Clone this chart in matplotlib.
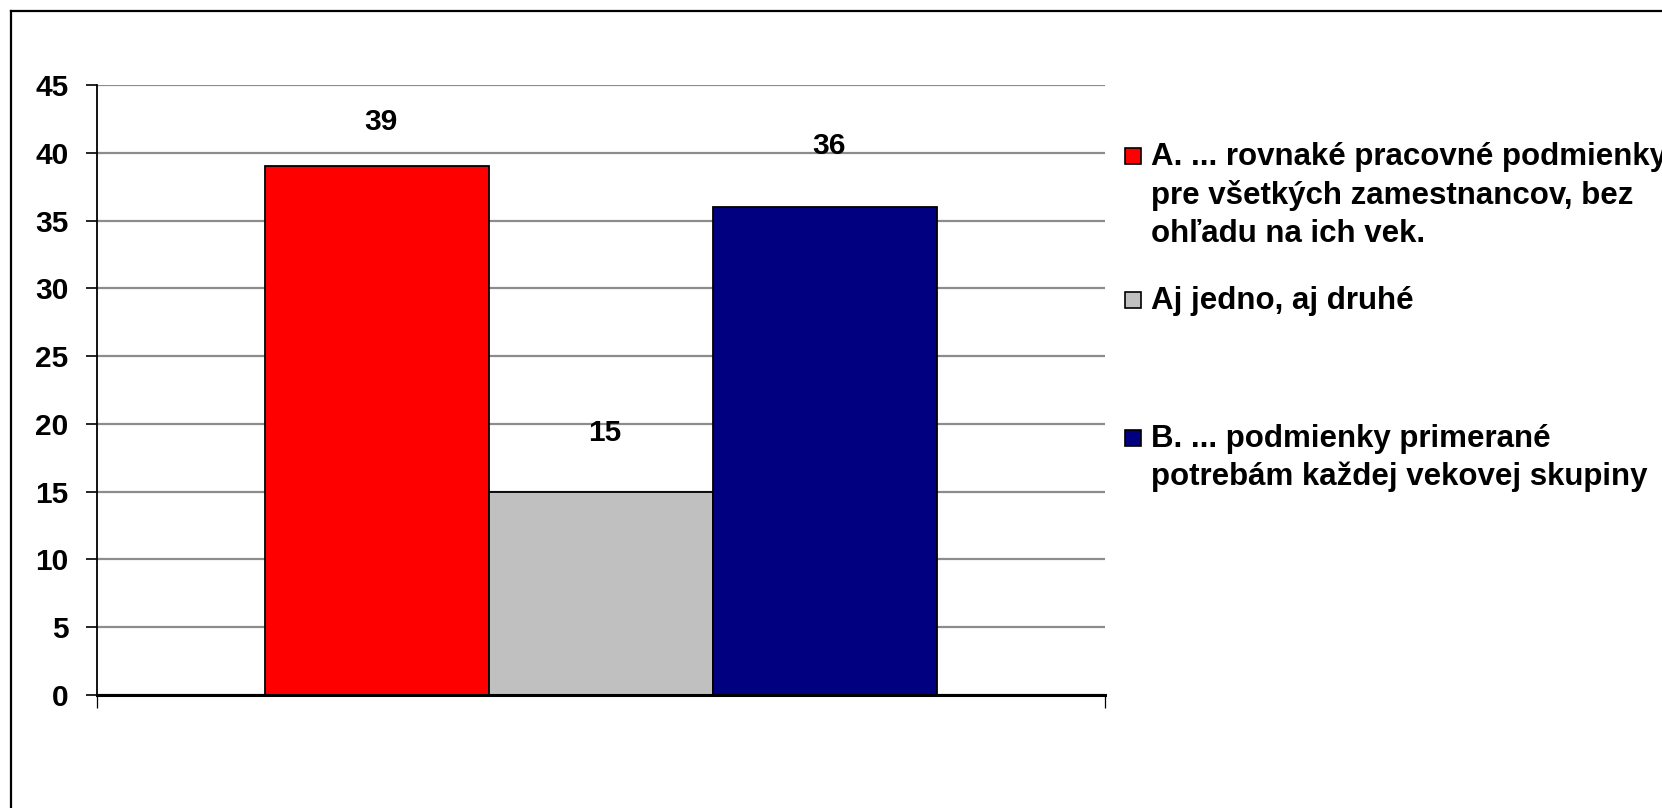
import matplotlib
matplotlib.use("Agg")
import matplotlib.pyplot as plt
from matplotlib.lines import Line2D
from matplotlib.patches import Rectangle

# Survey answers (percent)
labels = [
    "A. ... rovnaké pracovné podmienky\npre všetkých zamestnancov, bez\nohľadu na ich vek.",
    "Aj jedno, aj druhé",
    "B. ... podmienky primerané\npotrebám každej vekovej skupiny",
]
values = [39, 15, 36]
colors = ["#FF0000", "#C0C0C0", "#000080"]
yticks = [0, 5, 10, 15, 20, 25, 30, 35, 40, 45]

plt.rcParams["font.family"] = ["Liberation Sans", "DejaVu Sans"]
plt.rcParams["font.weight"] = "bold"

W, H = 1662, 808
fig = plt.figure(figsize=(W / 100, H / 100), dpi=100)
ax = fig.add_axes([96.5 / W, 1 - 695 / H, 1008 / W, 610 / H])

x = [0, 1, 2]
bars = ax.bar(x, values, width=1.0, color=colors, edgecolor="black",
              linewidth=1.3, zorder=3)

# value labels above each bar (offset in points)
label_offsets = [32, 42, 44]
for xi, v, off in zip(x, values, label_offsets):
    ax.annotate(str(v), (xi, v), xytext=(3, off), textcoords="offset points",
                ha="center", va="center", fontsize=21.5, fontweight="bold")

ax.set_xlim(-1.25, 3.25)
ax.set_ylim(0, 45)
ax.set_yticks(yticks)
ax.set_yticklabels([str(t) for t in yticks], fontsize=21.5, fontweight="bold")
ax.tick_params(axis="y", length=8, width=1.2, pad=12, direction="out")
ax.set_xticks([-1.25, 3.25])
ax.set_xticklabels(["", ""])
ax.tick_params(axis="x", length=9, width=0.9, direction="out")

ax.yaxis.grid(True, color="#8c8c8c", linewidth=1.6, zorder=0)
ax.set_axisbelow(True)
for s in ["top", "right"]:
    ax.spines[s].set_visible(False)
ax.spines["left"].set_linewidth(1.3)
ax.spines["bottom"].set_linewidth(2.2)
ax.spines["bottom"].set_zorder(4)

# legend drawn as patches and text to the right of the plot
legend_y = [156, 300, 438]
for lab, col, yc in zip(labels, colors, legend_y):
    fig.patches.append(Rectangle((1125 / W, 1 - (yc + 8) / H), 16 / W, 16 / H,
                                 transform=fig.transFigure, facecolor=col,
                                 edgecolor="black", linewidth=1.2))
    fig.text(1151 / W, 1 - (yc - 14) / H, lab, ha="left", va="top",
             fontsize=22.5, fontweight="bold", linespacing=1.33)

# chart area frame
fig.lines.append(Line2D([10.5 / W, 10.5 / W], [0, 1 - 10.5 / H],
                        transform=fig.transFigure, color="black", linewidth=1.6))
fig.lines.append(Line2D([10.5 / W, 1], [1 - 10.5 / H, 1 - 10.5 / H],
                        transform=fig.transFigure, color="black", linewidth=1.6))

fig.savefig("out.png", dpi=100)
